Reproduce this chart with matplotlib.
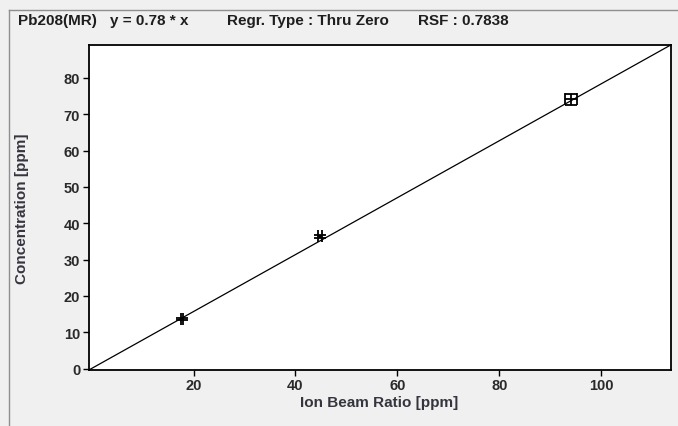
import matplotlib
matplotlib.use("Agg")
import matplotlib.pyplot as plt
from matplotlib.lines import Line2D

# ---- data ----
ion_beam_ratio = [17.7, 44.8, 94.0]
concentration = [13.6, 36.4, 74.1]
x_err = [0.18, 0.35, 1.15]
y_err = [0.30, 0.45, 1.45]
rsf = 0.7838
x_ticks = [20, 40, 60, 80, 100]
y_ticks = [0, 10, 20, 30, 40, 50, 60, 70, 80]
x_max = 113.6

title_parts = ["Pb208(MR)", "y = 0.78 * x", "Regr. Type : Thru Zero", "RSF : 0.7838"]
title_x_px = [18, 110, 227, 418]

W, H = 678, 427
plt.rcParams['font.family'] = ['Liberation Sans', 'DejaVu Sans']
fig = plt.figure(figsize=(W / 100, H / 100), dpi=100, facecolor='#f0f0f0')

# outer frame
fig.add_artist(Line2D([8.5 / W, 8.5 / W], [0, 1 - 10.5 / H], transform=fig.transFigure,
                      color='#8f8f8f', lw=1))
fig.add_artist(Line2D([8.5 / W, 1], [1 - 10.5 / H, 1 - 10.5 / H], transform=fig.transFigure,
                      color='#8f8f8f', lw=1))

ax = fig.add_axes([88.5 / W, 1 - 370.7 / H, (670.7 - 88.5) / W, (370.7 - 46) / H])
ax.set_facecolor('white')

ax.axline((0, 0), slope=rsf, color='black', lw=0.9)
ax.errorbar(ion_beam_ratio, concentration, xerr=x_err, yerr=y_err, fmt='none',
            ecolor='black', elinewidth=1.3, capsize=4.3, capthick=1.3)

ax.set_xlim(-0.6, x_max)
ax.set_ylim(-0.33, rsf * x_max)
ax.set_xticks(x_ticks)
ax.set_yticks(y_ticks)
for s in ax.spines.values():
    s.set_linewidth(1.3)
    s.set_color('black')
ax.tick_params(direction='out', length=4, width=1, colors='black', labelcolor='#2a2a2a',
               labelsize=10.5, pad=2)
for lab in ax.get_xticklabels() + ax.get_yticklabels():
    lab.set_fontweight('bold')

ax.set_xlabel("Ion Beam Ratio [ppm]", fontsize=11, fontweight='bold', color='#35353f', labelpad=2)
ax.set_ylabel("Concentration [ppm]", fontsize=11, fontweight='bold', color='#35353f', labelpad=25)

for t, xp in zip(title_parts, title_x_px):
    fig.text(xp / W, 1 - 21 / H, t, ha='left', va='center', fontsize=11,
             fontweight='bold', color='#1e1e1e')

fig.savefig("out.png", dpi=100, facecolor=fig.get_facecolor())
